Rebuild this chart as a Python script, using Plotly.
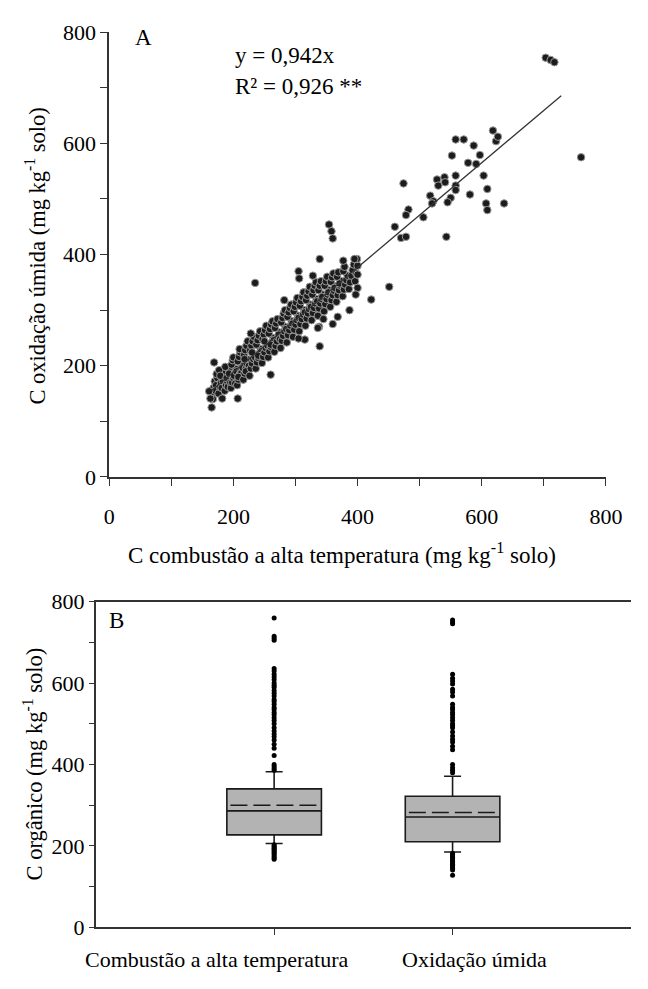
import plotly.graph_objects as go

# ---------------- Panel A data ----------------
combustao_x = [
    166, 168, 170, 172, 174, 167, 171, 173,
    176, 178, 180, 182, 184, 177, 181, 183, 179,
    186, 188, 190, 192, 194, 187, 189, 191, 193, 195,
    196, 198, 200, 202, 204, 197, 199, 201, 203, 205, 200,
    206, 208, 210, 212, 214, 207, 209, 211, 213, 215, 210, 208,
    216, 218, 220, 222, 224, 217, 219, 221, 223, 225, 220, 218,
    226, 228, 230, 232, 234, 227, 229, 231, 233, 235, 230, 228,
    236, 238, 240, 242, 244, 237, 239, 241, 243, 245, 240,
    246, 248, 250, 252, 254, 247, 249, 251, 253, 255, 250,
    256, 258, 260, 262, 264, 257, 259, 261, 263, 265, 260,
    266, 268, 270, 272, 274, 267, 269, 271, 273, 275,
    276, 278, 280, 282, 284, 277, 279, 281, 283, 285,
    286, 288, 290, 292, 294, 287, 289, 291, 293, 295,
    296, 298, 300, 302, 304, 297, 299, 301, 303, 305,
    306, 308, 310, 312, 314, 307, 309, 311, 313, 315,
    316, 318, 320, 322, 324, 317, 319, 321, 323, 325,
    326, 328, 330, 332, 334, 327, 329, 331, 333, 335,
    336, 338, 340, 342, 344, 337, 339, 341, 343,
    346, 348, 350, 352, 354, 347, 349, 351, 353,
    356, 358, 360, 362, 364, 357, 359, 361, 363,
    366, 368, 370, 372, 374, 367, 369, 371,
    376, 378, 380, 382, 384, 377, 379,
    386, 388, 390, 392, 394,
    396, 398, 400, 399,
    161, 163, 165, 169, 182, 207, 235, 260, 282, 339,
    305, 306, 328, 339, 338, 315, 305, 336, 360, 368,
    345, 354, 358, 360, 377, 395, 400, 400, 397, 387,
    422, 451, 460, 470, 478, 474, 482, 478, 506, 517,
    522, 520, 528, 540, 541, 530, 543, 550, 545, 558,
    558, 558, 552, 558, 571, 578, 581, 587, 591, 597,
    603, 607, 609, 609, 618, 623, 626, 636, 703, 711,
    717, 760,
]
oxidacao_y = [
    150, 160, 172, 165, 178, 140, 155, 185,
    150, 162, 170, 178, 188, 192, 160, 172, 182,
    155, 165, 172, 180, 190, 198, 178, 162, 186, 170,
    160, 170, 178, 186, 194, 202, 210, 182, 168, 190, 215,
    165, 175, 184, 192, 200, 208, 216, 224, 188, 196, 230, 180,
    175, 186, 195, 203, 211, 219, 228, 236, 244, 200, 190, 212,
    182, 195, 204, 212, 220, 228, 236, 244, 252, 215, 224, 258,
    195, 206, 214, 222, 230, 238, 246, 254, 262, 226, 218,
    205, 216, 224, 232, 240, 248, 256, 264, 272, 236, 244,
    215, 226, 234, 242, 250, 258, 266, 274, 280, 246, 238,
    225, 236, 244, 252, 260, 268, 276, 284, 256, 248,
    232, 245, 254, 262, 270, 278, 286, 294, 300, 266,
    242, 255, 264, 272, 280, 288, 296, 304, 310, 276,
    252, 265, 274, 282, 290, 298, 306, 314, 322, 286,
    262, 275, 284, 292, 300, 308, 316, 324, 332, 296,
    272, 285, 294, 302, 310, 318, 326, 334, 342, 306,
    282, 295, 304, 312, 320, 328, 336, 344, 350, 316,
    290, 303, 312, 320, 328, 336, 344, 352, 324,
    298, 311, 320, 328, 336, 344, 352, 360, 332,
    306, 318, 327, 335, 343, 351, 359, 366, 340,
    315, 327, 336, 344, 352, 360, 368, 348,
    325, 337, 346, 354, 362, 370, 378,
    338, 350, 362, 372, 382,
    352, 366, 380, 392,
    154, 141, 125, 206, 141, 141, 349, 184, 318, 392,
    370, 357, 362, 235, 270, 247, 249, 268, 275, 288,
    284, 454, 442, 429, 389, 392, 364, 340, 328, 300,
    319, 342, 450, 430, 432, 528, 481, 471, 467, 506,
    496, 492, 535, 539, 530, 524, 432, 502, 494, 542,
    524, 516, 578, 607, 607, 565, 508, 596, 563, 579,
    542, 492, 480, 518, 623, 604, 612, 492, 754, 750,
    746, 575,
]
reg_slope = 0.942
reg_x = [165, 728]
eq_text = "y = 0,942x"
r2_text = "R² = 0,926 **"

# ---------------- Panel B data ----------------
methods = ["Combustão a alta temperatura", "Oxidação úmida"]
method_pos = [1, 2]
q1 = [227, 210]
median = [286, 271]
q3 = [340, 322]
mean = [300, 282]
lower_whisker = [206, 185]
upper_whisker = [382, 371]
comb_outliers = [760, 715, 710, 705, 636, 630, 622, 615, 608, 600, 595, 590, 582,
                 575, 568, 560, 555, 548, 540, 535, 528, 522, 515, 508, 500, 490,
                 482, 475, 468, 460, 450, 440, 422, 400, 395, 390, 386,
                 203, 200, 197, 194, 191, 188, 185, 182, 178, 174, 170, 167]
oxid_outliers = [755, 750, 746, 622, 612, 605, 598, 585, 578, 568, 548, 540, 535,
                 528, 522, 515, 508, 500, 495, 490, 480, 470, 462, 455, 445, 436,
                 400, 392, 386, 380,
                 182, 178, 175, 172, 168, 165, 162, 158, 155, 152, 148, 145, 141, 128]

FONT = "Liberation Serif, Times New Roman, Times, serif"
FS = 23
TFS = 22
W, H = 648, 989
BOX_W = 0.53

def px(x):
    return x / W

def py(y):
    return 1 - y / H

fig = go.Figure()

# Panel A
fig.add_trace(go.Scatter(
    x=combustao_x, y=oxidacao_y, mode="markers",
    marker=dict(size=7.5, color="#1c1c1c", line=dict(color="#9a9a9a", width=1)),
    xaxis="x", yaxis="y", showlegend=False, hoverinfo="skip"))
fig.add_trace(go.Scatter(
    x=reg_x, y=[reg_slope * v for v in reg_x], mode="lines",
    line=dict(color="#333333", width=1.3),
    xaxis="x", yaxis="y", showlegend=False, hoverinfo="skip"))

# Panel B
for i in range(2):
    fig.add_trace(go.Box(
        x=[method_pos[i]], q1=[q1[i]], median=[median[i]], q3=[q3[i]],
        lowerfence=[lower_whisker[i]], upperfence=[upper_whisker[i]],
        boxpoints=False, width=BOX_W, whiskerwidth=0.18,
        fillcolor="#b3b3b3", line=dict(color="#1a1a1a", width=1.6),
        xaxis="x2", yaxis="y2", showlegend=False, hoverinfo="skip"))
    fig.add_trace(go.Scatter(
        x=[method_pos[i] - BOX_W / 2 + 0.02, method_pos[i] + BOX_W / 2 - 0.02],
        y=[mean[i], mean[i]], mode="lines",
        line=dict(color="#1a1a1a", width=1.6, dash="17px,6px"),
        xaxis="x2", yaxis="y2", showlegend=False, hoverinfo="skip"))

for pos, vals in zip(method_pos, [comb_outliers, oxid_outliers]):
    fig.add_trace(go.Scatter(
        x=[pos] * len(vals), y=vals, mode="markers",
        marker=dict(size=5, color="#000000"),
        xaxis="x2", yaxis="y2", showlegend=False, hoverinfo="skip"))

tick_font = dict(family=FONT, size=TFS, color="#000")
vals100 = list(range(0, 801, 100))
text200 = [str(v) if v % 200 == 0 else "" for v in vals100]

fig.update_layout(
    width=W, height=H, autosize=False,
    margin=dict(l=0, r=0, t=0, b=0),
    paper_bgcolor="white", plot_bgcolor="white",
    font=dict(family=FONT, size=FS, color="#000"),
    xaxis=dict(domain=[px(107), px(622)], range=[0, 800], anchor="y",
               tickvals=vals100, ticktext=text200, ticks="outside", ticklen=7,
               tickcolor="#333", showline=True, linecolor="#333", linewidth=1.5,
               showgrid=False, zeroline=False, tickfont=tick_font,
               ticklabelstandoff=12),
    yaxis=dict(domain=[py(477), py(20.7)], range=[0, 800], anchor="x",
               tickvals=vals100, ticktext=text200, ticks="outside", ticklen=7,
               tickcolor="#333", showline=True, linecolor="#333", linewidth=1.5,
               showgrid=False, zeroline=False, tickfont=tick_font),
    xaxis2=dict(domain=[px(93), 1.0], range=[0, 3], anchor="y2",
                tickvals=method_pos, ticktext=["", ""], ticks="outside", ticklen=6,
                tickcolor="#333", showline=True, linecolor="#333", linewidth=1.5,
                mirror=True, showgrid=False, zeroline=False),
    yaxis2=dict(domain=[py(939), py(605)], range=[0, 800], anchor="x2",
                tickvals=vals100, ticktext=text200, ticks="outside", ticklen=5,
                tickcolor="#333", showline=True, linecolor="#333", linewidth=1.5,
                showgrid=False, zeroline=False, tickfont=tick_font),
)

ann = [
    dict(text="A", x=px(132), y=py(26), xanchor="left", size=FS),
    dict(text=eq_text, x=px(235), y=py(45), xanchor="left", size=FS),
    dict(text=r2_text, x=px(235), y=py(76), xanchor="left", size=FS),
    dict(text="C combustão a alta temperatura (mg kg<sup>-1</sup> solo)",
         x=px(348), y=py(556), xanchor="center", size=FS),
    dict(text="C oxidação úmida (mg kg<sup>-1</sup> solo)",
         x=px(30), y=py(250), xanchor="center", textangle=-90, size=22.5),
    dict(text="B", x=px(105), y=py(624), xanchor="left", size=FS),
    dict(text="C orgânico (mg kg<sup>-1</sup> solo)",
         x=px(28), y=py(772), xanchor="center", textangle=-90, size=22.5),
    dict(text=methods[0], x=px(219), y=py(972), xanchor="center", size=22),
    dict(text=methods[1], x=px(486), y=py(972), xanchor="center", size=22),
]
for a in ann:
    size = a.pop("size")
    fig.add_annotation(xref="paper", yref="paper", yanchor="middle",
                       showarrow=False, font=dict(family=FONT, size=size, color="#000"),
                       **a)

fig.write_html("out.html", config={"displayModeBar": False},
               post_script="document.body.style.margin='0';document.body.style.overflow='hidden';")
